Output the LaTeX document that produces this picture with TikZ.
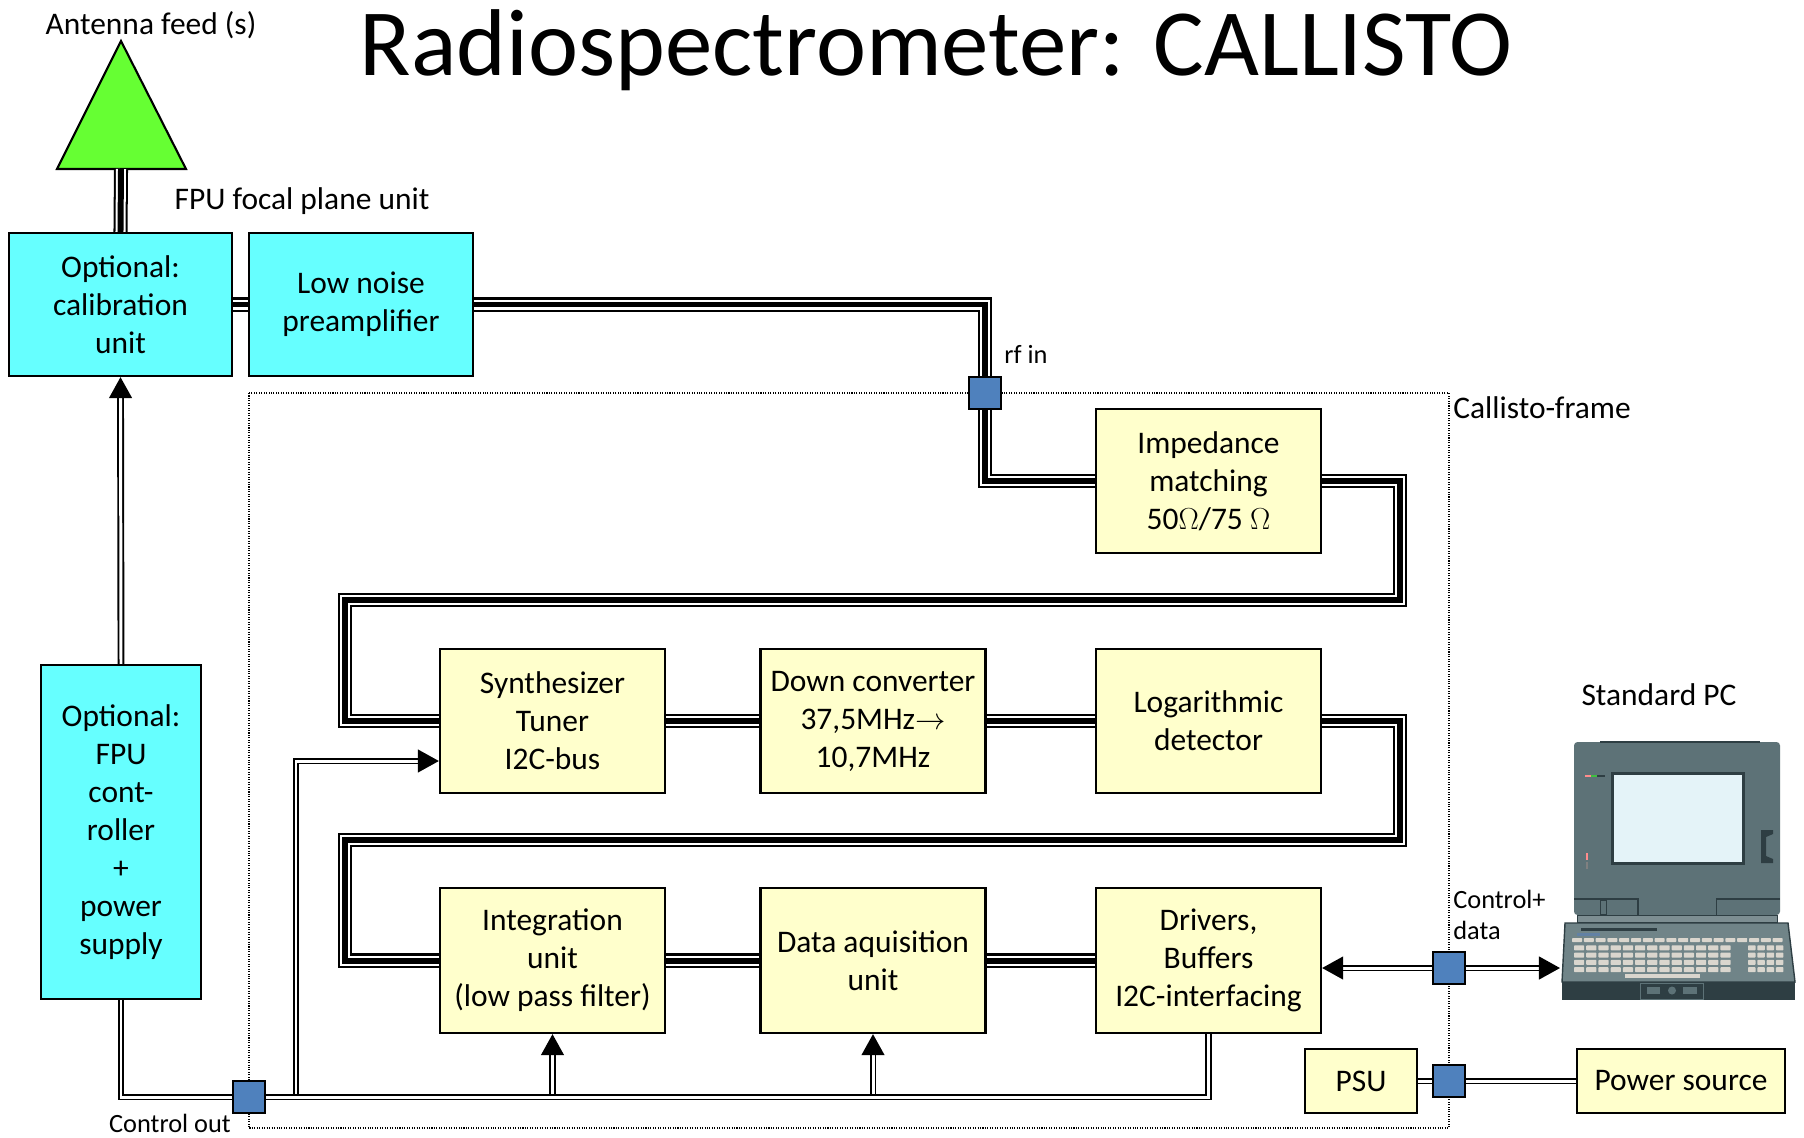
\documentclass[tikz,border=0pt]{standalone}
\usepackage{fontspec}
\setmainfont{Carlito}
\usepackage{tikz}
\usetikzlibrary{arrows.meta}
\usetikzlibrary{calc}

\definecolor{fpucyan}{RGB}{102,255,255}
\definecolor{unityellow}{RGB}{255,255,204}
\definecolor{portblue}{RGB}{79,129,189}
\definecolor{antgreen}{RGB}{102,255,51}
\definecolor{pcbody}{RGB}{93,114,119}
\definecolor{pcdark}{RGB}{46,62,67}
\definecolor{pcscreen}{RGB}{228,243,248}
\definecolor{pcpanel}{RGB}{112,132,136}
\definecolor{pckey}{RGB}{218,214,206}

\tikzset{
  boxtext/.style={font=\fontsize{17.9}{21.6}\selectfont, align=center},
  fpubox/.style={draw=black, line width=1.3pt, fill=fpucyan, boxtext, inner sep=2pt},
  unitbox/.style={draw=black, line width=1.3pt, fill=unityellow, boxtext, inner sep=2pt,
    minimum width=4.5cm, minimum height=2.88cm},
  portbox/.style={draw=black, line width=1.2pt, fill=portblue,
    minimum width=0.64cm, minimum height=0.64cm, inner sep=0pt},
  % triple coax line for the rf chain
  rfline/.style={draw=black, line width=3.4pt,
    preaction={draw=black, line width=8pt},
    preaction={draw=white, line width=5.7pt}},
  ctlline/.style={draw=black, double=white, line width=1.1pt, double distance=1.7pt},
  ctlarrow/.style={-{Triangle[length=12pt,width=13pt]}},
  biglbl/.style={font=\fontsize{17.9}{21.6}\selectfont, inner sep=0pt},
  smalllbl/.style={font=\fontsize{15}{17.6}\selectfont, inner sep=0pt},
}

\begin{document}
\begin{tikzpicture}[x=0.02cm, y=-0.02cm]
\useasboundingbox (0,0) rectangle (1804,1137);
\fill[white] (0,0) rectangle (1804,1137);

% titles and labels
\node[anchor=base, font=\fontsize{54}{60}\selectfont] (title) at (936,75) {Radiospectrometer: CALLISTO};
\node[biglbl] (antlbl) at (151,25) {Antenna feed (s)};
\node[biglbl] (fpulbl) at (302,201) {FPU focal plane unit};
\node[smalllbl, anchor=base west] (rflbl) at (1004,363) {rf in};
\node[biglbl, anchor=base west] (framelbl) at (1453,418) {Callisto-frame};
\node[smalllbl, anchor=base] (outlbl) at (170,1132) {Control out};
\node[smalllbl, anchor=base west, align=left] (datalbl) at (1453,939) {Control+\\data};
\node[biglbl, anchor=base] (pclbl) at (1659,705) {Standard PC};

% callisto frame
\draw[line width=0.6pt, dash pattern=on 0.6pt off 0.8pt] (249,393) rectangle (1449,1128);

% antenna
\coordinate (antbase) at (121,169);
\filldraw[fill=antgreen, draw=black, line width=1.2pt]
   (121,41) -- (186,169) -- (57,169) -- cycle;

% focal plane unit
\node[fpubox, minimum width=4.46cm, minimum height=2.86cm] (cal) at (120.5,304.5) {Optional:\\calibration\\unit};
\node[fpubox, minimum width=4.48cm, minimum height=2.86cm] (lna) at (361,304.5) {Low noise\\preamplifier};
\node[fpubox, minimum width=3.2cm, minimum height=6.68cm] (fpuctl) at (121,832) {Optional:\\FPU\\cont-\\roller\\+\\power\\supply};

% receiver units
\node[unitbox] (imp) at (1208.5,481) {Impedance\\matching\\50$\Omega$/75 $\Omega$};
\node[unitbox] (synth) at (552.5,721) {Synthesizer\\Tuner\\I2C-bus};
\node[unitbox] (down) at (873,721) {Down converter\\37,5MHz$\rightarrow$\\10,7MHz};
\node[unitbox] (logdet) at (1208.5,721) {Logarithmic\\detector};
\node[unitbox, minimum height=2.9cm] (integ) at (552.5,960.5) {Integration\\unit\\(low pass filter)};
\node[unitbox, minimum height=2.9cm] (daq) at (873,960.5) {Data aquisition\\unit};
\node[unitbox, minimum height=2.9cm] (drivers) at (1208.5,960.5) {Drivers,\\Buffers\\I2C-interfacing};
\node[unitbox, minimum width=2.24cm, minimum height=1.28cm] (psu) at (1361,1081) {PSU};
\node[unitbox, minimum width=4.16cm, minimum height=1.28cm] (power) at (1681,1081) {Power source};

% connectors on the frame
\node[portbox] (rfin) at (985,393) {};
\node[portbox] (ctlout) at (249,1097) {};
\node[portbox] (pcport) at (1449,968) {};
\node[portbox] (psuport) at (1449,1081) {};

% rf chain
\coordinate (turnA) at (1400,600);
\coordinate (turnB) at (345,600);
\coordinate (turnC) at (1400,840);
\coordinate (turnD) at (345,840);
\draw[rfline] (antbase) -- (cal.north);
\draw[rfline] (cal.east) -- (lna.west);
\draw[rfline] (lna.east) -| (rfin.north);
\draw[rfline] (rfin.south) |- (imp.west);
\draw[rfline] (imp.east) -| (turnA) -- (turnB) |- (synth.west);
\draw[rfline] (synth.east) -- (down.west);
\draw[rfline] (down.east) -- (logdet.west);
\draw[rfline] (logdet.east) -| (turnC) -- (turnD) |- (integ.west);
\draw[rfline] (integ.east) -- (daq.west);
\draw[rfline] (daq.east) -- (drivers.west);

% control bus
\coordinate (tapsyn) at (296,1097);
\draw[ctlline, ctlarrow] (fpuctl.north) -- (cal.south);
\draw[ctlline, ctlarrow] (tapsyn) |- ([yshift=-0.8cm]synth.west);
\draw[ctlline, ctlarrow] (integ.south |- ctlout.east) -- (integ.south);
\draw[ctlline, ctlarrow] (daq.south |- ctlout.east) -- (daq.south);
\draw[ctlline] (fpuctl.south) |- (ctlout.west);
\draw[ctlline] (ctlout.east) -| (drivers.south);

% pc link and power
\coordinate (pcin) at (1560,968);
\draw[ctlline, ctlarrow] (pcport.west) -- (pcport.west -| drivers.east);
\draw[ctlline, ctlarrow] (pcport.east) -- (pcin);
\draw[ctlline] (psu.east) -- (psuport.west);
\draw[ctlline] (psuport.east) -- (power.west);

% the pc: monitor
\fill[pcbody, rounded corners=2pt] (1574,742) rectangle (1780,915);
\draw[pcdark, line width=1.2pt] (1600,742) -- (1760,742);
\fill[pcdark] (1611,772) rectangle (1745,865);
\fill[pcscreen] (1614,775) rectangle (1742,862);
\draw[pcdark, line width=0.6pt] (1574,899) -- (1638,899) -- (1638,916)
   (1716,916) -- (1716,899) -- (1780,899);
\draw[pcdark, line width=0.5pt] (1600,900) rectangle (1606,914);
\fill[pcdark] (1761,830) -- (1773,830) -- (1773,834) -- (1766,837) -- (1766,856)
   -- (1773,859) -- (1773,863) -- (1761,863) -- cycle;
\fill[red!45] (1585,775) rectangle (1591,777);
\fill[green!50!gray] (1591,775) rectangle (1597,777);
\fill[pcdark] (1597,775) rectangle (1605,777);
\fill[red!45] (1586,853) rectangle (1588,860);
\fill[gray] (1586,862) rectangle (1588,869);
\filldraw[fill=pcbody!80!white, draw=pcdark, line width=0.4pt] (1577,915) rectangle (1777,922);

% the pc: keyboard
\filldraw[fill=pcpanel, draw=pcdark, line width=0.8pt] (1565,923) -- (1788,923) -- (1795,982) -- (1562,982) -- cycle;
\fill[pcdark] (1562,982) rectangle (1795,1000);
\draw[pcbody, line width=0.5pt] (1640,983) rectangle (1703,999);
\fill[pcbody] (1647,987) rectangle (1660,994);
\fill[pcbody] (1683,987) rectangle (1697,994);
\fill[pcbody] (1672,990.5) circle (4);
\fill[pcdark] (1581,928) rectangle (1657,931);
\fill[portblue!60!gray] (1577,933) rectangle (1600,936);
\foreach \c in {0,...,17}
  \fill[pckey, rounded corners=0.4pt] ({1572+\c*11.8},938) rectangle +(10,4);
\foreach \r in {1,...,4}
  \foreach \c in {0,...,12}
    \fill[pckey, rounded corners=0.4pt] ({1574+\c*12.2},{938+\r*7.3}) rectangle +(10.2,5);
\foreach \r in {1,...,4}
  \foreach \c in {0,...,3}
    \fill[pckey, rounded corners=0.4pt] ({1748+\c*9.3},{938+\r*7.3}) rectangle +(7.5,5);
\fill[pckey] (1625,974) rectangle (1700,977.5);
\end{tikzpicture}
\end{document}
